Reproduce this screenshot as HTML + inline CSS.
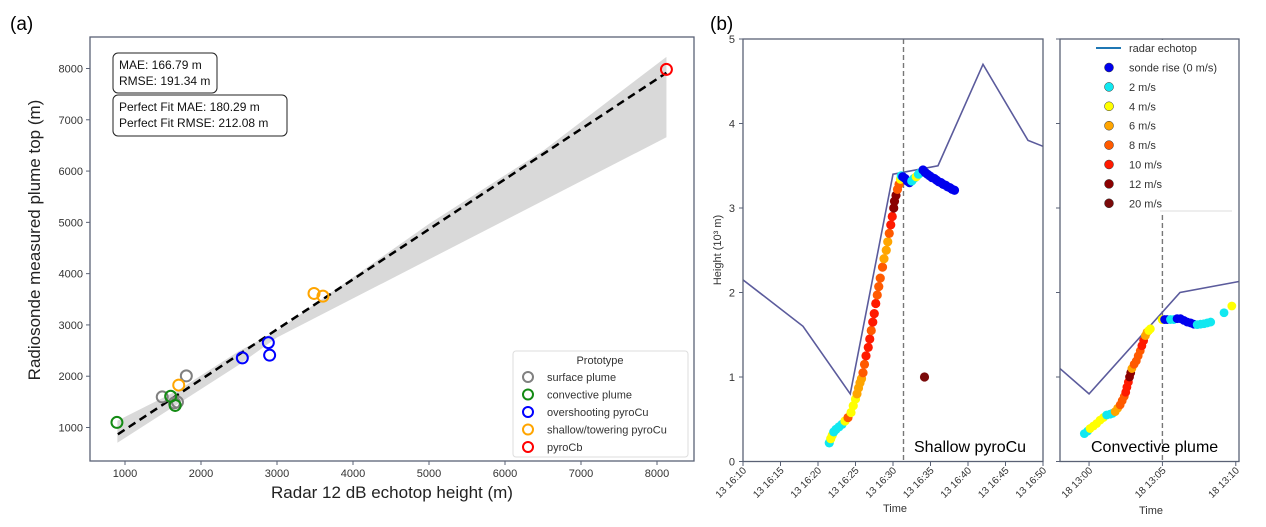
<!DOCTYPE html>
<html><head><meta charset="utf-8">
<style>
html,body{margin:0;padding:0;background:#fff;}
svg{display:block;font-family:"Liberation Sans",sans-serif;}
</style></head>
<body>
<svg id="s" width="1266" height="527" viewBox="0 0 1266 527" xmlns="http://www.w3.org/2000/svg">
<text x="10" y="30" font-size="19" fill="#000">(a)</text>
<text x="710" y="30" font-size="19" fill="#000">(b)</text>
<g id="ga"></g>
<g id="gb"></g>
</svg>
<script>
// ---------- Panel (a) data ----------
const xTicksA = [1000,2000,3000,4000,5000,6000,7000,8000];
const yTicksA = [1000,2000,3000,4000,5000,6000,7000,8000];
const categories = ["surface plume","convective plume","overshooting pyroCu","shallow/towering pyroCu","pyroCb"];
const catColors = ["#808080","#138a13","#0000ff","#ffa500","#ff0000"];
const ptX = [1490,1690,1807,1650, 894,1601,1660, 2544,2886,2903, 1707,3487,3605, 8124];
const ptY = [1596,1496,2006,1480, 1099,1609,1430, 2357,2655,2410, 1827,3614,3561, 7982];
const ptCat = [0,0,0,0, 1,1,1, 2,2,2, 3,3,3, 4];
const fitX = [906, 8124];
const fitY = [868, 7916];
const bandX = [900,1700,2500,3000,5000,6500,8124];
const bandLo = [702,1463,2224,2754,4278,5421,6659];
const bandHi = [1132,1728,2489,2886,4971,6394,8227];

// ---------- Panel (b) data ----------
const hTicks = [0,1,2,3,4,5];
const leftTimeTicks = [10,15,20,25,30,35,40,45,50];
const leftTimeLabels = ["13 16:10","13 16:15","13 16:20","13 16:25","13 16:30","13 16:35","13 16:40","13 16:45","13 16:50"];
const rightTimeTicks = [0,5,10];
const rightTimeLabels = ["18 13:00","18 13:05","18 13:10"];
const speedLabels = ["sonde rise (0 m/s)","2 m/s","4 m/s","6 m/s","8 m/s","10 m/s","12 m/s","20 m/s"];
const speedColors = ["#0000ee","#11e8f0","#ffff00","#ffa500","#ff5a00","#ff1a00","#8b0000","#7a0a0a"];
const echoLT = [10,18,24.3,30,36,42,48,50];
const echoLH = [2.15,1.6,0.8,3.4,3.5,4.7,3.8,3.73];
const echoRT = [-1.98,0,6.2,10.22];
const echoRH = [1.1,0.8,2.0,2.13];
const sondeLT = [21.5,21.7,21.9,22.1,22.4,22.8,23.2,23.6,24.0,24.4,24.7,25.0,25.2,25.4,25.6,25.8,26.0,26.2,26.4,26.7,26.9,27.1,27.3,27.5,27.7,27.9,28.1,28.3,28.6,28.8,29.1,29.3,29.5,29.7,29.9,30.1,30.2,30.4,30.6,30.8,31.0,31.1, 31.3,31.6,31.9,32.2, 32.5,32.8,33.1,33.4,33.7, 34.0,34.3,34.6,34.9,35.2,35.5,35.8,36.1,36.4,36.7,37.0,37.3,37.6,37.9,38.2, 34.2];
const sondeLH = [0.22,0.27,0.31,0.35,0.38,0.41,0.44,0.48,0.52,0.58,0.66,0.74,0.8,0.87,0.93,0.98,1.05,1.15,1.25,1.35,1.45,1.55,1.65,1.75,1.87,1.97,2.07,2.17,2.3,2.4,2.5,2.6,2.7,2.8,2.9,3.0,3.08,3.15,3.22,3.28,3.34,3.38, 3.37,3.35,3.32,3.3, 3.32,3.35,3.37,3.4,3.42, 3.45,3.42,3.4,3.38,3.36,3.35,3.33,3.31,3.3,3.28,3.27,3.25,3.24,3.22,3.21, 1.0];
const sondeLS = [1,2,2,1,1,1,1,2,4,2,2,2,3,3,3,3,4,4,5,5,5,4,5,5,5,4,4,4,4,3,3,3,4,5,5,6,6,6,4,4,2,1, 0,0,0,0, 1,1,2,1,1, 0,0,0,0,0,0,0,0,0,0,0,0,0,0,0, 7];
const sondeRT = [-0.32,-0.1,0.07,0.3,0.52,0.75,0.98,1.2,1.44,1.6,1.78,1.95,2.12,2.26,2.4,2.5,2.58,2.68,2.76,2.84,2.92,3.07,3.22,3.35,3.49,3.6,3.72,3.84,3.95,4.07,4.18, 4.98,5.15,5.32,5.55,5.77,6.0,6.23,6.46,6.69,6.92,7.14,7.37,7.6,7.83,8.06,8.29, 9.2,9.73];
const sondeRH = [0.33,0.36,0.39,0.42,0.45,0.49,0.52,0.55,0.56,0.57,0.59,0.63,0.67,0.72,0.77,0.82,0.88,0.94,1.0,1.05,1.1,1.15,1.19,1.25,1.31,1.37,1.43,1.49,1.53,1.55,1.57, 1.68,1.68,1.68,1.68,1.68,1.69,1.69,1.67,1.65,1.64,1.625,1.62,1.625,1.63,1.64,1.65, 1.76,1.84];
const sondeRS = [1,1,2,2,2,2,2,1,1,1,3,3,4,4,4,5,5,5,6,6,3,4,4,4,4,5,5,3,3,2,2, 2,0,0,1,1,0,0,0,0,0,0,1,1,1,1,1, 1,2];

const NS="http://www.w3.org/2000/svg";
function mk(parent,tag,attrs,name){const e=document.createElementNS(NS,tag);for(const k in attrs)e.setAttribute(k,attrs[k]);


parent.appendChild(e);return e;}
function txt(parent,x,y,s,size,name,extra){const e=mk(parent,'text',Object.assign({x:x,y:y,'font-size':size,fill:'#333'},extra||{}),name);e.textContent=s;return e;}

// ---------- draw (a) ----------
const ga=document.getElementById('ga');
const AX0=90,AX1=694,AY0=37,AY1=461;
const xa=v=>125+(v-1000)*(532/7000);
const ya=v=>427.5-(v-1000)*(359/7000);
let bp=[];for(let i=0;i<bandX.length;i++)bp.push(xa(bandX[i])+','+ya(bandHi[i]));
for(let i=bandX.length-1;i>=0;i--)bp.push(xa(bandX[i])+','+ya(bandLo[i]));
mk(ga,'polygon',{points:bp.join(' '),fill:'#d9d9d9'},'confidence-band');
mk(ga,'line',{x1:xa(fitX[0]),y1:ya(fitY[0]),x2:xa(fitX[1]),y2:ya(fitY[1]),stroke:'#000','stroke-width':2.5,'stroke-dasharray':'8,5'},'fit-line');
for(let i=0;i<ptX.length;i++){
  mk(ga,'circle',{cx:xa(ptX[i]),cy:ya(ptY[i]),r:5.5,fill:'none',stroke:catColors[ptCat[i]],'stroke-width':2},'point-'+categories[ptCat[i]].replace(/[^a-z]+/gi,'-'));
}
mk(ga,'rect',{x:AX0,y:AY0,width:AX1-AX0,height:AY1-AY0,fill:'none',stroke:'#5a6275','stroke-width':1.3},'plot-frame-a');
xTicksA.forEach(v=>{mk(ga,'line',{x1:xa(v),x2:xa(v),y1:AY1,y2:AY1+4,stroke:'#5a6275'},'x-tick');
  txt(ga,xa(v),AY1+16,v,11,'x-tick-label',{'text-anchor':'middle'});});
yTicksA.forEach(v=>{mk(ga,'line',{x1:AX0-4,x2:AX0,y1:ya(v),y2:ya(v),stroke:'#5a6275'},'y-tick');
  txt(ga,AX0-7,ya(v)+4,v,11,'y-tick-label',{'text-anchor':'end'});});
txt(ga,392,498,'Radar 12 dB echotop height (m)',17,'x-axis-title',{'text-anchor':'middle',fill:'#222'});
txt(ga,0,0,'Radiosonde measured plume top (m)',17,'y-axis-title',{'text-anchor':'middle',fill:'#222',transform:'translate(40,240) rotate(-90)'});
mk(ga,'rect',{x:113,y:53,width:104,height:40,rx:5,fill:'#fff',stroke:'#222','stroke-width':1},'stats-box');
txt(ga,119,69,'MAE: 166.79 m',12,'mae-label',{fill:'#111'});
txt(ga,119,85,'RMSE: 191.34 m',12,'rmse-label',{fill:'#111'});
mk(ga,'rect',{x:113,y:95,width:174,height:41,rx:5,fill:'#fff',stroke:'#222','stroke-width':1},'perfect-fit-box');
txt(ga,119,111,'Perfect Fit MAE: 180.29 m',12,'pf-mae-label',{fill:'#111'});
txt(ga,119,127,'Perfect Fit RMSE: 212.08 m',12,'pf-rmse-label',{fill:'#111'});
const lg=mk(ga,'g',{},'legend-a');
mk(lg,'rect',{x:513,y:351,width:175,height:106,rx:3,fill:'#fff',stroke:'#ddd'},'legend-frame');
txt(lg,600,364,'Prototype',11,'legend-title',{'text-anchor':'middle'});
categories.forEach((c,i)=>{const y=377+i*17.5;
  mk(lg,'circle',{cx:528,cy:y,r:5,fill:'none',stroke:catColors[i],'stroke-width':2},'legend-marker');
  txt(lg,547,y+4,c,11,'legend-entry');});

// ---------- draw (b) ----------
const gb=document.getElementById('gb');
const ybh=h=>461.5-h*84.5;
const L0=743,L1=1043, R0=1060,R1=1239;
const xL=t=>L0+(t-10)*(L1-L0)/40;
const xR=t=>R0+(t+1.98)*(R1-R0)/12.2;
const C='#5a6275';
// left panel
mk(gb,'line',{x1:xL(31.4),x2:xL(31.4),y1:39,y2:461.5,stroke:'#777','stroke-width':1.4,'stroke-dasharray':'5,3'},'launch-line-left');
mk(gb,'polyline',{points:echoLT.map((t,i)=>xL(t)+','+ybh(echoLH[i])).join(' '),fill:'none',stroke:'#5b5b9c','stroke-width':1.6},'echotop-line-left');
for(let i=0;i<sondeLT.length;i++)mk(gb,'circle',{cx:xL(sondeLT[i]),cy:ybh(sondeLH[i]),r:4.6,fill:speedColors[sondeLS[i]]},'sonde-point-left');
mk(gb,'rect',{x:L0,y:39,width:L1-L0,height:461.5-39,fill:'none',stroke:C,'stroke-width':1.3},'plot-frame-left');
hTicks.forEach(h=>{mk(gb,'line',{x1:L0-4,x2:L0,y1:ybh(h),y2:ybh(h),stroke:C},'y-tick');
  txt(gb,L0-8,ybh(h)+4,h,11,'y-tick-label',{'text-anchor':'end'});
  mk(gb,'line',{x1:R0-4,x2:R0,y1:ybh(h),y2:ybh(h),stroke:C},'y-tick-right');});
leftTimeTicks.forEach((t,i)=>{mk(gb,'line',{x1:xL(t),x2:xL(t),y1:461.5,y2:466,stroke:C},'x-tick');
  txt(gb,0,0,leftTimeLabels[i],10,'x-tick-label',{'text-anchor':'end',transform:`translate(${xL(t)+4},${471}) rotate(-45)`});});
txt(gb,895,512,'Time',11,'x-axis-title-left',{'text-anchor':'middle'});
txt(gb,0,0,'Height (10³ m)',11,'y-axis-title',{'text-anchor':'middle',transform:'translate(721,250) rotate(-90)'});
txt(gb,914,452,'Shallow pyroCu',16,'panel-label-shallow',{fill:'#000'});
// right panel
mk(gb,'line',{x1:xR(5),x2:xR(5),y1:39,y2:461.5,stroke:'#777','stroke-width':1.4,'stroke-dasharray':'5,3'},'launch-line-right');
mk(gb,'polyline',{points:echoRT.map((t,i)=>xR(t)+','+ybh(echoRH[i])).join(' '),fill:'none',stroke:'#5b5b9c','stroke-width':1.6},'echotop-line-right');
for(let i=0;i<sondeRT.length;i++)mk(gb,'circle',{cx:xR(sondeRT[i]),cy:ybh(sondeRH[i]),r:4.4,fill:speedColors[sondeRS[i]]},'sonde-point-right');
mk(gb,'rect',{x:R0,y:39,width:R1-R0,height:461.5-39,fill:'none',stroke:C,'stroke-width':1.3},'plot-frame-right');
rightTimeTicks.forEach((t,i)=>{mk(gb,'line',{x1:xR(t),x2:xR(t),y1:461.5,y2:466,stroke:C},'x-tick');
  txt(gb,0,0,rightTimeLabels[i],10,'x-tick-label',{'text-anchor':'end',transform:`translate(${xR(t)+4},${471}) rotate(-45)`});});
txt(gb,1151,514,'Time',11,'x-axis-title-right',{'text-anchor':'middle'});
txt(gb,1091,452,'Convective plume',16,'panel-label-convective',{fill:'#000'});
// legend
const lb=mk(gb,'g',{},'legend-b');
mk(lb,'rect',{x:1095,y:40,width:141,height:172,fill:'#fff'},'legend-bg');
mk(lb,'line',{x1:1096,x2:1121,y1:48,y2:48,stroke:'#1f77b4','stroke-width':2},'legend-line-marker');
txt(lb,1129,52,'radar echotop',11,'legend-entry');
speedLabels.forEach((s,i)=>{const y=67.5+i*19.4;
  mk(lb,'circle',{cx:1109,cy:y,r:4.5,fill:speedColors[i],stroke:'#333','stroke-width':0.5},'legend-marker');
  txt(lb,1129,y+4,s,11,'legend-entry');});
mk(lb,'line',{x1:1160,x2:1232,y1:211,y2:211,stroke:'#ddd'},'legend-border');
</script>
</body></html>
